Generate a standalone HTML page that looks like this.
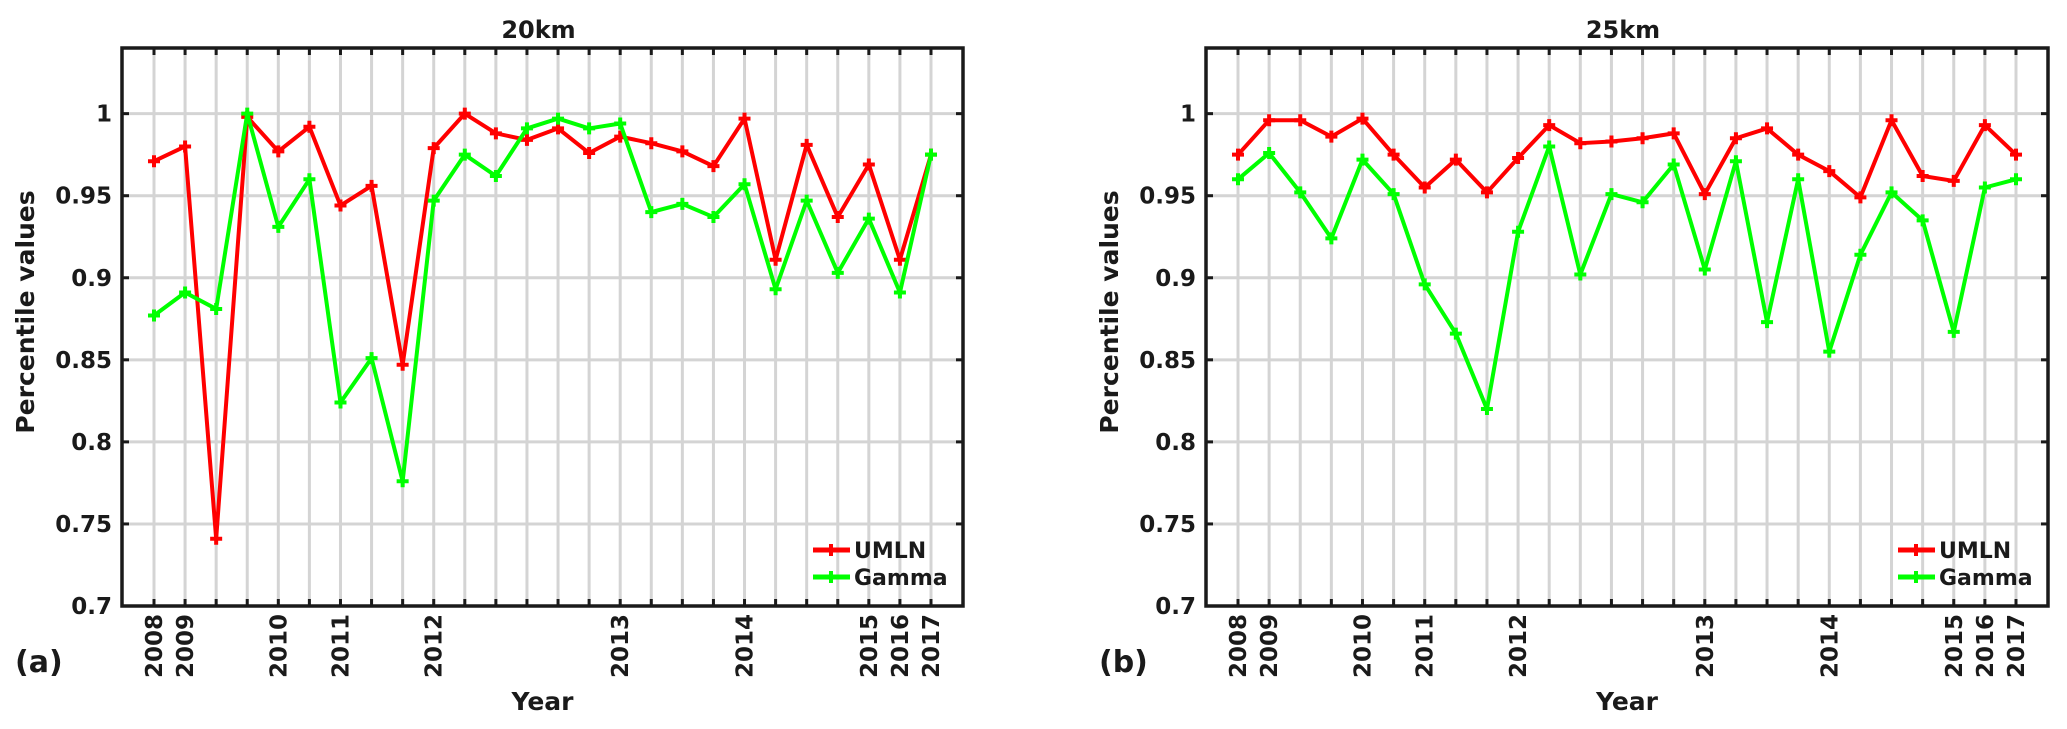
<!DOCTYPE html>
<html><head><meta charset="utf-8"><style>
html,body{margin:0;padding:0;background:#fff}
svg{display:block}
text{font-family:"DejaVu Sans","Liberation Sans",sans-serif;font-weight:bold;fill:#1a1a1a}
</style></head><body>
<svg id="fig" width="2067" height="729" viewBox="0 0 2067 729" xmlns="http://www.w3.org/2000/svg"></svg>
<script>
const categories = ["2008","2009","","","2010","","2011","","","2012","","","","","","2013","","","","2014","","","","2015","2016","2017"];
const yTicks = [0.7,0.75,0.8,0.85,0.9,0.95,1];
const yTickLabels = ["0.7","0.75","0.8","0.85","0.9","0.95","1"];
const umln20 = [0.971,0.980,0.741,0.998,0.977,0.992,0.944,0.956,0.847,0.979,1.000,0.988,0.984,0.991,0.976,0.986,0.982,0.977,0.968,0.997,0.911,0.981,0.937,0.969,0.911,0.975];
const gamma20 = [0.877,0.891,0.881,1.000,0.931,0.960,0.824,0.851,0.776,0.947,0.975,0.962,0.991,0.997,0.991,0.994,0.940,0.945,0.937,0.957,0.893,0.947,0.903,0.936,0.891,0.975];
const umln25 = [0.975,0.996,0.996,0.986,0.997,0.975,0.955,0.972,0.952,0.973,0.993,0.982,0.983,0.985,0.988,0.951,0.985,0.991,0.975,0.965,0.949,0.996,0.962,0.959,0.993,0.975];
const gamma25 = [0.960,0.976,0.952,0.924,0.972,0.951,0.896,0.866,0.820,0.928,0.980,0.902,0.951,0.946,0.969,0.905,0.971,0.873,0.960,0.855,0.914,0.952,0.935,0.867,0.955,0.960];

const NS = "http://www.w3.org/2000/svg";
const svg = document.getElementById('fig');
function mk(tag, attrs, parent){
  const e = document.createElementNS(NS, tag);
  for (const k in attrs) e.setAttribute(k, attrs[k]);
  (parent||svg).appendChild(e);
  return e;
}
const Y0 = 0.7, Y1 = 1.04, TOP = 48, BOT = 606;
function panel(L, R, title, label, s1, s2, tag){
  const g = mk('g', {});
  
  
  const n = categories.length;
  const x = i => L + 32 + i * ((R - L - 64) / (n - 1));
  const y = v => BOT - (v - Y0) / (Y1 - Y0) * (BOT - TOP);
  // grid
  for (let i = 0; i < n; i++){
    const l = mk('line', {x1:x(i), x2:x(i), y1:TOP, y2:BOT, stroke:'#d4d4d4', 'stroke-width':3}, g);
    
    
  }
  yTicks.forEach((v, k) => {
    const l = mk('line', {x1:L, x2:R, y1:y(v), y2:y(v), stroke:'#d4d4d4', 'stroke-width':3}, g);
    
    
    mk('line', {x1:L, x2:L+7, y1:y(v), y2:y(v), stroke:'#1a1a1a', 'stroke-width':3}, g);
    mk('line', {x1:R-7, x2:R, y1:y(v), y2:y(v), stroke:'#1a1a1a', 'stroke-width':3}, g);
    const t = mk('text', {x:L-10, y:y(v)+8, 'text-anchor':'end', 'font-size':23}, g);
    t.textContent = yTickLabels[k];
    
    
  });
  for (let i = 0; i < n; i++){
    mk('line', {x1:x(i), x2:x(i), y1:BOT, y2:BOT-7, stroke:'#1a1a1a', 'stroke-width':3}, g);
    mk('line', {x1:x(i), x2:x(i), y1:TOP, y2:TOP+7, stroke:'#1a1a1a', 'stroke-width':3}, g);
    if (categories[i]){
      const t = mk('text', {x:0, y:0, 'text-anchor':'end', 'font-size':23, transform:`translate(${x(i)+8},614) rotate(-90)`}, g);
      t.textContent = categories[i];
      
      
    }
  }
  const box = mk('rect', {x:L, y:TOP, width:R-L, height:BOT-TOP, fill:'none', stroke:'#1a1a1a', 'stroke-width':3.5}, g);
  
  
  function series(vals, color, name){
    const pts = vals.map((v, i) => x(i) + ',' + y(v)).join(' ');
    const pl = mk('polyline', {points:pts, fill:'none', stroke:color, 'stroke-width':4, 'stroke-linejoin':'round'}, g);
    
    
    vals.forEach((v, i) => {
      const m = mk('path', {d:`M${x(i)-6},${y(v)}h12M${x(i)},${y(v)-6}v12`, stroke:color, 'stroke-width':4}, g);
      
      
    });
  }
  series(s1, '#ff0000', 'umln');
  series(s2, '#00ff00', 'gamma');
  // legend
  const lx = R - 150;
  const leg = mk('g', {}, g);
  
  
  [['UMLN','#ff0000',550],['Gamma','#00ff00',577]].forEach(([nm, c, ly]) => {
    mk('line', {x1:lx, x2:lx+37, y1:ly, y2:ly, stroke:c, 'stroke-width':5}, leg);
    mk('path', {d:`M${lx+18},${ly-6}v12`, stroke:c, 'stroke-width':4}, leg);
    const t = mk('text', {x:lx+41, y:ly+8, 'font-size':22}, leg);
    t.textContent = nm;
    
    
  });
  const cx = (L + R) / 2;
  const tt = mk('text', {x:cx-4, y:38, 'text-anchor':'middle', 'font-size':24}, g);
  tt.textContent = title;
  
  
  const xt = mk('text', {x:cx, y:710, 'text-anchor':'middle', 'font-size':25}, g);
  xt.textContent = 'Year';
  
  
  const yt = mk('text', {x:0, y:0, 'text-anchor':'middle', 'font-size':25, transform:`translate(${L-88},${(TOP+BOT)/2-15}) rotate(-90)`}, g);
  yt.textContent = 'Percentile values';
  
  
  const pl = mk('text', {x:L-107, y:672, 'font-size':30}, g);
  pl.textContent = label;
  
  
}
panel(122, 963, '20km', '(a)', umln20, gamma20, '20km');
panel(1206, 2048, '25km', '(b)', umln25, gamma25, '25km');
</script>
</body></html>
